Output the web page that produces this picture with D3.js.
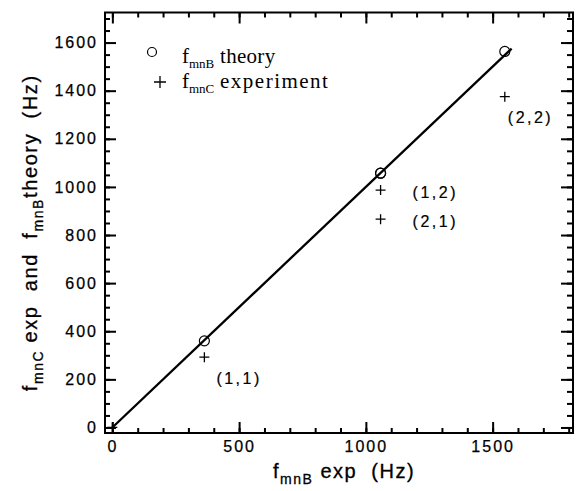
<!DOCTYPE html>
<html><head><meta charset="utf-8">
<script src="https://cdn.jsdelivr.net/npm/d3@7"></script>
<style>
html,body{margin:0;padding:0;background:#fff;}
svg{display:block;}
text{fill:#000;}
</style></head>
<body>
<svg id="chart" width="579" height="491"></svg>
<script>
// ---- data ----
const modes      = ["(1,1)", "(1,2)", "(2,1)", "(2,2)"];
const fmnBexp    = [363, 1058, 1058, 1548];   // x: f_mnB exp (Hz)
const fmnBtheory = [360, 1057, 1057, 1563];   // circles
const fmnCexp    = [292, 987, 866, 1375];     // pluses
const fitX       = [0, 1575];
const fitY       = [0, 1575];
const originX    = [0];
const originY    = [0];
const xMajor = [0, 500, 1000, 1500];
const xMinor = [0,100,200,300,400,500,600,700,800,900,1000,1100,1200,1300,1400,1500,1600,1700,1800];
const yMajor = [0, 200, 400, 600, 800, 1000, 1200, 1400, 1600];
const yMinor = [0,50,100,150,200,250,300,350,400,450,500,550,600,650,700,750,800,850,900,950,1000,1050,1100,1150,1200,1250,1300,1350,1400,1450,1500,1550,1600,1650,1700];

// ---- layout ----
const W = 579, H = 491;
const m = {left:105, right:6, top:12.5, bottom:58};
const svg = d3.select("#chart");
const x = d3.scaleLinear().domain([-29, 1817]).range([m.left, W - m.right]);
const y = d3.scaleLinear().domain([-23, 1725]).range([H - m.bottom, m.top]);
const x0 = m.left, x1 = W - m.right, y0 = H - m.bottom, y1 = m.top;

const sans = "'Liberation Sans', Arial, Helvetica, sans-serif";
const serif = "'Liberation Serif', 'Times New Roman', serif";

function styleAxis(g){
  g.select(".domain").remove();
  g.selectAll(".tick line").attr("stroke","#000").attr("stroke-width",2);
  g.selectAll("text").attr("font-family",sans).attr("font-size",16).attr("letter-spacing","2px")
    .attr("fill","#000").attr("stroke","#000").attr("stroke-width",0.25);
}
// bottom
svg.append("g").attr("transform",`translate(0,${y0})`)
  .call(d3.axisBottom(x).tickValues(xMinor).tickSize(-5).tickFormat("")).call(styleAxis);
svg.append("g").attr("transform",`translate(0,${y0})`)
  .call(d3.axisBottom(x).tickValues(xMajor).tickSize(-11).tickPadding(8).tickFormat(d3.format("d"))).call(styleAxis);
// top
svg.append("g").attr("transform",`translate(0,${y1})`)
  .call(d3.axisTop(x).tickValues(xMinor).tickSize(-5).tickFormat("")).call(styleAxis);
svg.append("g").attr("transform",`translate(0,${y1})`)
  .call(d3.axisTop(x).tickValues(xMajor).tickSize(-11).tickFormat("")).call(styleAxis);
// left
svg.append("g").attr("transform",`translate(${x0},0)`)
  .call(d3.axisLeft(y).tickValues(yMinor).tickSize(-5).tickFormat("")).call(styleAxis);
svg.append("g").attr("transform",`translate(${x0},0)`)
  .call(d3.axisLeft(y).tickValues(yMajor).tickSize(-11).tickPadding(7).tickFormat(d3.format("d"))).call(styleAxis);
// right
svg.append("g").attr("transform",`translate(${x1},0)`)
  .call(d3.axisRight(y).tickValues(yMinor).tickSize(-6).tickFormat("")).call(styleAxis);
svg.append("g").attr("transform",`translate(${x1},0)`)
  .call(d3.axisRight(y).tickValues(yMajor).tickSize(-12).tickFormat("")).call(styleAxis);

// frame
svg.append("rect").attr("x",x0).attr("y",y1).attr("width",x1-x0).attr("height",y0-y1)
  .attr("fill","none").attr("stroke","#000").attr("stroke-width",2);

// fit line
const line = d3.line().x(d=>x(d[0])).y(d=>y(d[1]));
svg.append("path").datum(d3.zip(fitX, fitY)).attr("d", line)
  .attr("fill","none").attr("stroke","#000").attr("stroke-width",2.3);

// theory circles
svg.append("g").selectAll("circle").data(d3.zip(fmnBexp, fmnBtheory)).join("circle")
  .attr("cx",d=>x(d[0])).attr("cy",d=>y(d[1])).attr("r",5)
  .attr("fill","none").attr("stroke","#000").attr("stroke-width",1.2);

// experiment pluses
function plus(g, px, py, s){
  g.append("path").attr("d",`M${px-s},${py}H${px+s}M${px},${py-s}V${py+s}`)
    .attr("stroke","#000").attr("stroke-width",1.3).attr("fill","none");
}
const pg = svg.append("g");
d3.zip(fmnBexp, fmnCexp).forEach(d => plus(pg, x(d[0]), y(d[1]), 5));
d3.zip(originX, originY).forEach(d => plus(pg, x(d[0]), y(d[1]), 5));

// mode labels
const labelOffsets = [[12,27],[32,8],[32,8],[3,26]];
svg.append("g").selectAll("text").data(modes).join("text")
  .attr("x",(d,i)=>x(fmnBexp[i]) + labelOffsets[i][0])
  .attr("y",(d,i)=>y(fmnCexp[i]) + labelOffsets[i][1])
  .attr("font-family",sans).attr("font-size",16).attr("letter-spacing","2.5px")
  .attr("stroke","#000").attr("stroke-width",0.2)
  .text(d=>d);

// legend
const leg = svg.append("g");
leg.append("circle").attr("cx",152).attr("cy",52).attr("r",4.5)
  .attr("fill","none").attr("stroke","#000").attr("stroke-width",1.2);
plus(leg, 160, 82, 6);
function legText(yb, sub, word, ls){
  const t = leg.append("text").attr("y",yb).attr("font-family",serif).attr("font-size",21);
  t.append("tspan").attr("x",182).text("f");
  t.append("tspan").attr("font-size",13).attr("dy",5).text(sub);
  t.append("tspan").attr("x",220).attr("dy",-5).attr("letter-spacing",ls).text(word);
}
legText(63, "mnB", "theory", "0.3px");
legText(88, "mnC", "experiment", "1.5px");

// x title
const xt = svg.append("text").attr("x",273).attr("y",478)
  .attr("font-family",sans).attr("font-size",20).attr("letter-spacing","1.5px").style("white-space","pre")
  .attr("stroke","#000").attr("stroke-width",0.3);
xt.append("tspan").text("f");
xt.append("tspan").attr("font-size",14).attr("dy",6).text("mnB");
xt.append("tspan").attr("dy",-6).text(" exp  (Hz)");

// y title
const yt = svg.append("text").attr("transform",`translate(37,${(y0+y1)/2 + 10}) rotate(-90)`)
  .attr("text-anchor","middle")
  .attr("font-family",sans).attr("font-size",20).attr("letter-spacing","1.6px").style("white-space","pre")
  .attr("stroke","#000").attr("stroke-width",0.3);
yt.append("tspan").text("f");
yt.append("tspan").attr("font-size",14).attr("dy",6).text("mnC");
yt.append("tspan").attr("dy",-6).text(" exp  and  f");
yt.append("tspan").attr("font-size",14).attr("dy",6).text("mnB");
yt.append("tspan").attr("dy",-6).text("theory  (Hz)");
</script>
</body></html>
